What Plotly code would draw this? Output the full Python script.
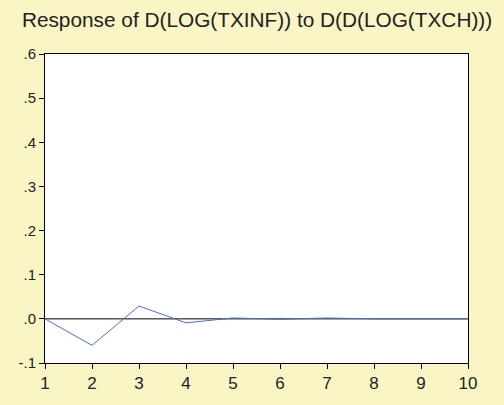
import plotly.graph_objects as go

periods = [1, 2, 3, 4, 5, 6, 7, 8, 9, 10]
response = [0.0, -0.060, 0.029, -0.009, 0.002, -0.001, 0.002, 0.0, 0.0, 0.0]
ytick_vals = [-0.1, 0.0, 0.1, 0.2, 0.3, 0.4, 0.5, 0.6]
ytick_text = ["-.1", ".0", ".1", ".2", ".3", ".4", ".5", ".6"]
title_text = "Response of D(LOG(TXINF)) to D(D(LOG(TXCH)))"

bg = "#F9F5C5"
fig = go.Figure()
fig.add_trace(go.Scatter(x=[1, 10], y=[0, 0], mode="lines",
                         line=dict(color="black", width=1), hoverinfo="skip"))
fig.add_trace(go.Scatter(x=periods, y=response, mode="lines",
                         line=dict(color="#4F6FC8", width=1)))
fig.update_layout(
    width=504, height=405, showlegend=False,
    paper_bgcolor=bg, plot_bgcolor="white",
    margin=dict(l=45, r=36, t=54, b=34),
    font=dict(family="Liberation Sans, Arial, sans-serif", size=15, color="#222"),
    title=dict(text=title_text, x=0.51, xanchor="center", y=0.952, yanchor="middle",
               font=dict(size=20.8, color="#222")),
)
fig.update_xaxes(range=[1, 10], tickvals=periods, ticks="outside", ticklen=5,
                 tickcolor="black", showline=True, linecolor="black", linewidth=1,
                 mirror=True, showgrid=False, zeroline=False,
                 tickfont=dict(size=17))
fig.update_yaxes(range=[-0.1, 0.6], tickvals=ytick_vals, ticktext=ytick_text,
                 ticks="outside", ticklen=5, tickcolor="black", showline=True,
                 linecolor="black", linewidth=1, mirror=True, showgrid=False,
                 zeroline=False, tickfont=dict(size=15))
fig.write_html("out.html", config={"displayModeBar": False},
               post_script="document.body.style.margin='0';")
